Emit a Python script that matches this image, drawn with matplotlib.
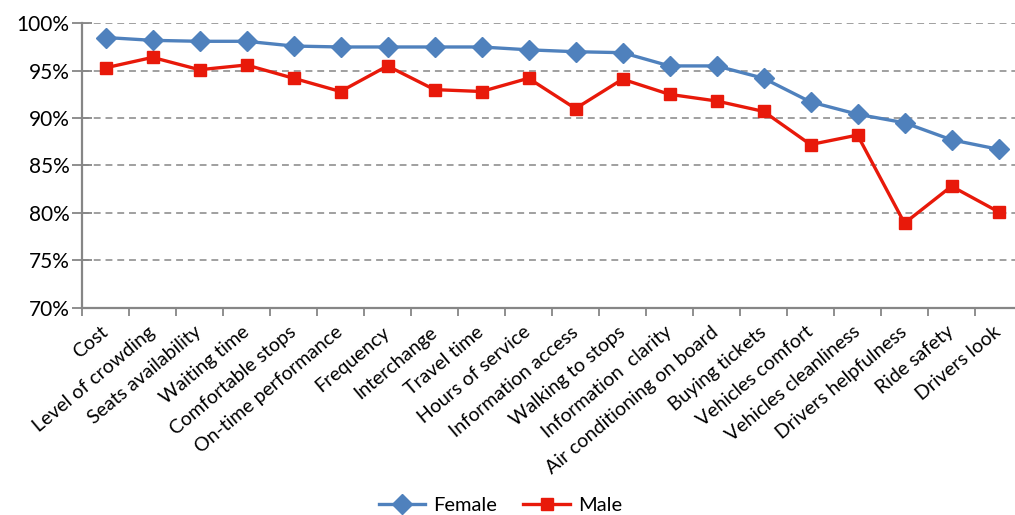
import matplotlib.pyplot as plt
from matplotlib.ticker import FuncFormatter, FixedLocator, NullFormatter

plt.rcParams['font.family'] = ['Lato', 'DejaVu Sans']

categories = ["Cost", "Level of crowding", "Seats availability", "Waiting time",
              "Comfortable stops", "On-time performance", "Frequency", "Interchange",
              "Travel time", "Hours of service", "Information access", "Walking to stops",
              "Information  clarity", "Air conditioning on board", "Buying tickets",
              "Vehicles comfort", "Vehicles cleanliness", "Drivers helpfulness",
              "Ride safety", "Drivers look"]

female = [98.5, 98.2, 98.1, 98.1, 97.6, 97.5, 97.5, 97.5, 97.5, 97.2,
          97.0, 96.9, 95.5, 95.5, 94.2, 91.7, 90.4, 89.5, 87.7, 86.7]
male = [95.3, 96.4, 95.1, 95.6, 94.2, 92.8, 95.5, 93.0, 92.8, 94.2,
        91.0, 94.1, 92.5, 91.8, 90.7, 87.2, 88.2, 78.9, 82.8, 80.1]

grey = "#868686"

fig = plt.figure(figsize=(10.15, 5.15), dpi=100)
ax = fig.add_axes([82 / 1015, 1 - 307.5 / 515, (1022 - 82) / 1015, (307.5 - 23.3) / 515])

x = list(range(len(categories)))
ax.plot(x, female, color="#4F81BD", lw=2.4, marker="D", markersize=10, label="Female", zorder=3)
ax.plot(x, male, color="#E8190A", lw=2.4, marker="s", markersize=9, label="Male", zorder=3)

ax.set_xlim(-0.5, len(categories) - 0.5)
ax.set_ylim(70, 100)
ax.set_yticks(range(70, 101, 5))
ax.yaxis.set_major_formatter(FuncFormatter(lambda v, p: f"{v:.0f}%"))
ax.yaxis.grid(True, color=grey, lw=1.1, linestyle=(0, (4.5, 3.2)))
ax.set_axisbelow(True)

# category labels at centres, ticks on category boundaries
ax.set_xticks(x)
ax.set_xticklabels(categories, rotation=40, ha="right", va="center", rotation_mode="anchor")
ax.tick_params(axis="x", which="major", length=0, pad=16, labelsize=14)
ax.xaxis.set_minor_locator(FixedLocator([i - 0.5 for i in range(len(categories) + 1)]))
ax.xaxis.set_minor_formatter(NullFormatter())
ax.tick_params(axis="x", which="minor", length=6, color=grey, width=1.3)
ax.tick_params(axis="y", direction="inout", length=14, color=grey, width=1.3, labelsize=15, pad=2)

for s in ["top", "right"]:
    ax.spines[s].set_visible(False)
for s in ["left", "bottom"]:
    ax.spines[s].set_color(grey)
    ax.spines[s].set_linewidth(1.6)

fig.legend(loc="center", bbox_to_anchor=(0.493, 0.019), ncol=2, frameon=False,
           fontsize=14.5, handlelength=2.3, columnspacing=1.3, handletextpad=0.4)

fig.savefig("out.png", dpi=100)
